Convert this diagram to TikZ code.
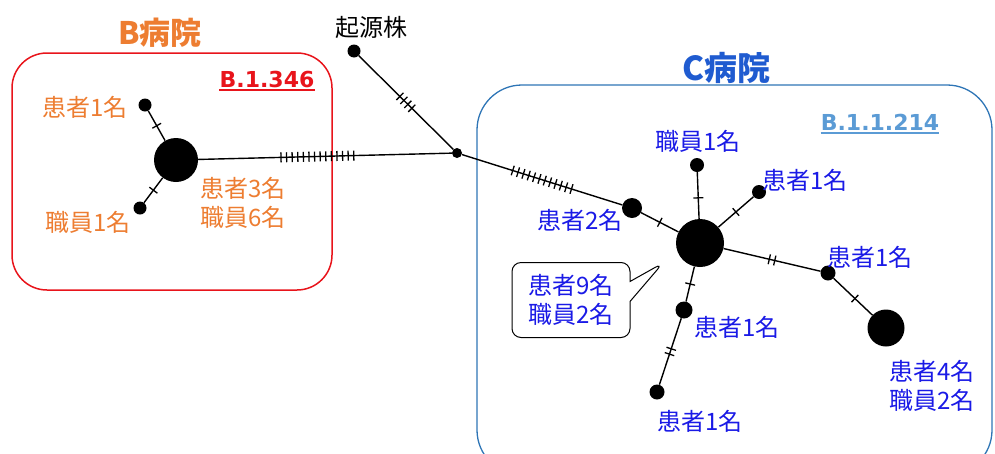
\documentclass[tikz,border=0pt]{standalone}
\usepackage{fontspec}
\setmainfont{Noto Sans CJK JP}
\newfontfamily\latinbold{DejaVu Sans}
\usetikzlibrary{decorations.markings,shapes.callouts}
\definecolor{bOrange}{HTML}{ED7D31}
\definecolor{bRed}{HTML}{E8141B}
\definecolor{cFrame}{HTML}{2E75B6}
\definecolor{cTitle}{HTML}{1F5BD0}
\definecolor{cLabel}{HTML}{1A1AE6}
\definecolor{cLineage}{HTML}{5B9BD5}

\begin{document}
\begin{tikzpicture}
[x=1pt,y=-1pt,
  lineDecorate/.style={-,line width=1.4pt},%
  nodeDecorate/.style={shape=circle,fill=black,inner sep=0pt,minimum size=#1},%
  hatchDecorate/.style 2 args={postaction={decorate,decoration={markings,
      mark=at position #2 with {\foreach \k in {1,...,#1}
        {\draw[line width=1.3pt] ({(\k-(#1+1)/2)*5.6pt},-5pt) -- ++(0,10pt);}}}}},%
  labelB/.style={text=bOrange,font=\fontsize{24}{29}\selectfont,align=center,inner sep=0pt},%
  labelC/.style={text=cLabel,font=\fontsize{24}{29}\selectfont,align=center,inner sep=0pt},%
  titleDecorate/.style={font=\fontsize{31}{36}\selectfont\bfseries,inner sep=0pt},%
  lineageDecorate/.style={font=\latinbold\bfseries\fontsize{22}{26}\selectfont,inner sep=0pt}]
\useasboundingbox (0,0) rectangle (995,453);
%% hospital frames
\draw[bRed,line width=1.5pt,rounded corners=35pt] (12,53) rectangle (332,290);
\draw[cFrame,line width=1.3pt,rounded corners=45pt] (477,85) rectangle (992,475);
\node[titleDecorate,text=bOrange] (Btitle) at (160,33) {B病院};
\node[titleDecorate,text=cTitle,font=\fontsize{33}{38}\selectfont\bfseries] (Ctitle) at (726,68) {C病院};
\node[lineageDecorate,text=bRed] (Blineage) at (267,79) {B.1.346};
\draw[bRed,line width=1.6pt] ([yshift=-3pt]Blineage.base west) -- ([yshift=-3pt]Blineage.base east);
\node[lineageDecorate,text=cLineage] (Clineage) at (880,122) {B.1.1.214};
\draw[cLineage,line width=1.6pt] ([yshift=-3pt]Clineage.base west) -- ([yshift=-3pt]Clineage.base east);
%% nodes or haplotypes
\foreach \nodename/\x/\y/\d in {
  Bc/176/160/44, Bp/145/105/13, Bs/140/208/13, hub/457/153/10,
  origin/354/51/13, Cc/700/243/48, Cp2/632/208/20, Cs/697/165/14,
  Cpa/759/192/14, Cpb/828/273/15, Cp4/886/328/37, Cpc/684/310/17,
  Cpd/657/392/15}
{
  \node (\nodename) at (\x,\y) [nodeDecorate=\d pt] {};
}
%% edges with mutation ticks
\foreach \startnode/\endnode/\ticks/\where in {
  Bc/Bp/1/0.5, Bc/Bs/1/0.5, Bc/hub/14/0.47, origin/hub/4/0.5,
  hub/Cp2/12/0.5, Cp2/Cc/1/0.5, Cc/Cs/1/0.45, Cc/Cpa/1/0.5,
  Cc/Cpb/2/0.5, Cpb/Cp4/1/0.55, Cc/Cpc/1/0.5, Cpc/Cpd/2/0.5}
{
  \draw[lineDecorate,hatchDecorate={\ticks}{\where}] (\startnode) -- (\endnode);
}
%% labels
\node[font=\fontsize{24}{29}\selectfont,inner sep=0pt] (originlabel) at (371,27) {起源株};
\node[labelB] (Bplabel) at (85,107) {患者1名};
\node[labelB] (Bslabel) at (88,222) {職員1名};
\node[labelB] (Bclabel) at (243,203) {患者3名\\職員6名};
\node[labelC] (Cp2label) at (580,220) {患者2名};
\node[labelC] (Cslabel) at (698,141) {職員1名};
\node[labelC] (Cpalabel) at (805,180) {患者1名};
\node[labelC] (Cpblabel) at (870,257) {患者1名};
\node[labelC] (Cp4label) at (932,386) {患者4名\\職員2名};
\node[labelC] (Cpclabel) at (737,327) {患者1名};
\node[labelC] (Cpdlabel) at (700,421) {患者1名};
\coordinate (tip) at (663,263);
\node[labelC,rectangle callout,draw=black,text=cLabel,line width=1pt,
  rounded corners=9pt,minimum width=118pt,minimum height=75pt,
  callout absolute pointer=(tip),callout pointer width=20pt]
  (Cclabel) at (571,300) {患者9名\\職員2名};
\end{tikzpicture}
\end{document}
